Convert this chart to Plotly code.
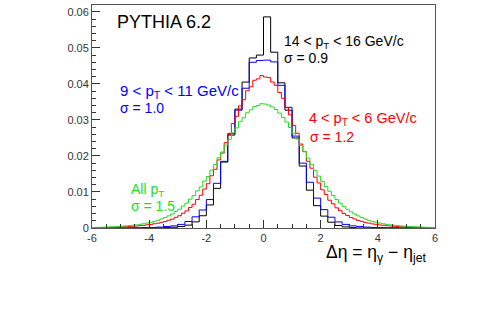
import numpy as np
import plotly.graph_objects as go

# ---------------- data ----------------
# fine binning (0.125) for "All pT" (green) and "4<pT<6" (red)
FINE_LO, FINE_HI, FINE_N = -6.0, 6.0, 96
# coarse binning (0.25) for "9<pT<11" (blue) and "14<pT<16" (black)
COARSE_LO, COARSE_HI, COARSE_N = -6.0, 6.0, 48

green_all = [
    0.00016, 0.00018, 0.00020, 0.00024, 0.00027, 0.00032, 0.00036, 0.00044,
    0.0005, 0.00058, 0.00066, 0.00078, 0.00087, 0.00103, 0.00117, 0.00138,
    0.00158, 0.00185, 0.00213, 0.0025, 0.0029, 0.00338, 0.0039, 0.0046,
    0.0052, 0.0061, 0.0069, 0.0080, 0.0090, 0.0103, 0.0114, 0.0130,
    0.0143, 0.0161, 0.0176, 0.0195, 0.0211, 0.0230, 0.0246, 0.0264,
    0.0278, 0.0295, 0.0306, 0.0320, 0.0328, 0.0337, 0.0340, 0.0345,
    0.0344, 0.0341, 0.0336, 0.0329, 0.0319, 0.0307, 0.0294, 0.0279,
    0.0263, 0.0247, 0.0229, 0.0212, 0.0194, 0.0177, 0.0160, 0.0144,
    0.0129, 0.0115, 0.0102, 0.0090, 0.0079, 0.0069, 0.0060, 0.0052,
    0.0045, 0.0039, 0.00335, 0.0029, 0.0025, 0.00214, 0.00184, 0.00159,
    0.00137, 0.00118, 0.00102, 0.00088, 0.00077, 0.00066, 0.00057, 0.0005,
    0.00043, 0.00037, 0.00032, 0.00028, 0.00024, 0.00021, 0.00018, 0.00015,
]

red_4_6 = [
    0.00008, 0.0001, 0.00011, 0.00014, 0.00016, 0.0002, 0.00022, 0.00027,
    0.0003, 0.00036, 0.0004, 0.00049, 0.00055, 0.00066, 0.00074, 0.00089,
    0.00099, 0.00118, 0.00133, 0.00158, 0.0018, 0.00216, 0.00246, 0.00296,
    0.0034, 0.0041, 0.00474, 0.0057, 0.0066, 0.0079, 0.0091, 0.0108,
    0.0123, 0.0145, 0.0163, 0.0189, 0.0208, 0.0237, 0.0259, 0.0290,
    0.0310, 0.0339, 0.0356, 0.0381, 0.0392, 0.0410, 0.0414, 0.0423,
    0.0419, 0.0418, 0.0405, 0.0396, 0.0376, 0.0360, 0.0334, 0.0314,
    0.0285, 0.0263, 0.0233, 0.0212, 0.0185, 0.0166, 0.0141, 0.0125,
    0.0106, 0.0093, 0.0077, 0.0067, 0.0056, 0.0048, 0.0040, 0.00348,
    0.0029, 0.00252, 0.0021, 0.00184, 0.00154, 0.00136, 0.00115, 0.00101,
    0.00086, 0.00076, 0.00064, 0.00057, 0.00047, 0.00042, 0.00034, 0.00031,
    0.00025, 0.00023, 0.00018, 0.00017, 0.00013, 0.00011, 0.00009, 0.00008,
]

blue_9_11 = [
    0, 0, 0, 0, 0, 0.00002, 0.00004, 0.0001,
    0.00015, 0.00025, 0.0004, 0.0006, 0.0010, 0.0018, 0.0031, 0.0050,
    0.0079, 0.0124, 0.0185, 0.0262, 0.0327, 0.0388, 0.0460, 0.0465,
    0.0466, 0.0461, 0.0396, 0.0335, 0.0255, 0.0180, 0.0127, 0.0083,
    0.0051, 0.0030, 0.0017, 0.0010, 0.0006, 0.0004, 0.00025, 0.00015,
    0.0001, 0.00005, 0.00003, 0, 0, 0, 0, 0,
]

black_14_16 = [
    0, 0, 0, 0, 0, 0, 0, 0,
    0, 0.00002, 0.0001, 0.0002, 0.0004, 0.0008, 0.0017, 0.0034,
    0.0064, 0.0110, 0.0183, 0.0258, 0.0330, 0.0405, 0.0472, 0.0480,
    0.0586, 0.0488, 0.0403, 0.0327, 0.0250, 0.0172, 0.0105, 0.0062,
    0.0033, 0.0016, 0.0007, 0.0003, 0.0001, 0, 0, 0,
    0, 0, 0, 0, 0, 0, 0, 0,
]

x_tick_vals = [-6, -4, -2, 0, 2, 4, 6]
x_tick_text = ["-6", "-4", "-2", "0", "2", "4", "6"]
y_tick_vals = [0, 0.01, 0.02, 0.03, 0.04, 0.05, 0.06]
y_tick_text = ["0", "0.01", "0.02", "0.03", "0.04", "0.05", "0.06"]

# ---------------- figure ----------------
fine_edges = np.linspace(FINE_LO, FINE_HI, FINE_N + 1)
coarse_edges = np.linspace(COARSE_LO, COARSE_HI, COARSE_N + 1)

GREEN = "#22dd22"
RED = "#ff0000"
BLUE = "#0000ff"
BLACK = "#000000"

fig = go.Figure()
for edges, vals, col in [
    (coarse_edges, black_14_16, BLACK),
    (coarse_edges, blue_9_11, BLUE),
    (fine_edges, red_4_6, RED),
    (fine_edges, green_all, GREEN),
]:
    fig.add_trace(go.Scatter(
        x=edges, y=list(vals) + [vals[-1]], mode="lines",
        line=dict(color=col, width=1, shape="hv"),
        hoverinfo="skip", showlegend=False,
    ))

FONT = "Liberation Sans, Arial, Helvetica, sans-serif"
axis_common = dict(
    ticks="inside", ticklen=8, tickwidth=1, tickcolor="#333",
    showline=True, linecolor="#555", linewidth=1, mirror=True,
    showgrid=False, zeroline=False,
    tickfont=dict(family=FONT, size=11, color="#333"),
)

fig.update_layout(
    width=485, height=316,
    margin=dict(l=92, r=50, t=5, b=88),
    paper_bgcolor="white", plot_bgcolor="white",
    font=dict(family=FONT, size=11, color="#333"),
    xaxis=dict(range=[-6, 6], tickvals=x_tick_vals, ticktext=x_tick_text,
               minor=dict(dtick=0.5, tick0=-6, ticks="inside", ticklen=4,
                          tickcolor="#333"),
               **axis_common),
    yaxis=dict(range=[0, 0.0619], tickvals=y_tick_vals, ticktext=y_tick_text,
               minor=dict(dtick=0.002, tick0=0, ticks="inside", ticklen=4,
                          tickcolor="#333"),
               **axis_common),
)

def note(text, x, y, color, size=14, xanchor="left"):
    fig.add_annotation(text=text, x=x, y=y, xref="paper", yref="paper",
                       xanchor=xanchor, yanchor="middle", showarrow=False,
                       font=dict(family=FONT, size=size, color=color))

note("PYTHIA 6.2", 0.067, 0.924, BLACK, size=18)
note("14 &lt; p<sub>T</sub> &lt; 16 GeV/c", 0.554, 0.835, BLACK)
note("σ = 0.9", 0.554, 0.762, BLACK)
note("9 &lt; p<sub>T</sub> &lt; 11 GeV/c", 0.076, 0.612, BLUE, size=15)
note("σ = 1.0", 0.076, 0.538, BLUE)
note("4 &lt; p<sub>T</sub> &lt; 6 GeV/c", 0.628, 0.489, RED, size=14.5)
note("σ = 1.2", 0.630, 0.408, RED)
note("All p<sub>T</sub>", 0.108, 0.171, GREEN)
note("σ = 1.5", 0.108, 0.099, GREEN)

fig.add_annotation(text="Δη = η<sub>γ</sub> − η<sub>jet</sub>",
                   x=0.98, y=-0.055, xref="paper", yref="paper",
                   xanchor="right", yanchor="top", showarrow=False,
                   font=dict(family=FONT, size=17.5, color=BLACK))

fig.write_html("out.html",
               config={"displayModeBar": False},
               post_script="document.body.style.margin='0';"
                           "document.body.style.padding='0';")
